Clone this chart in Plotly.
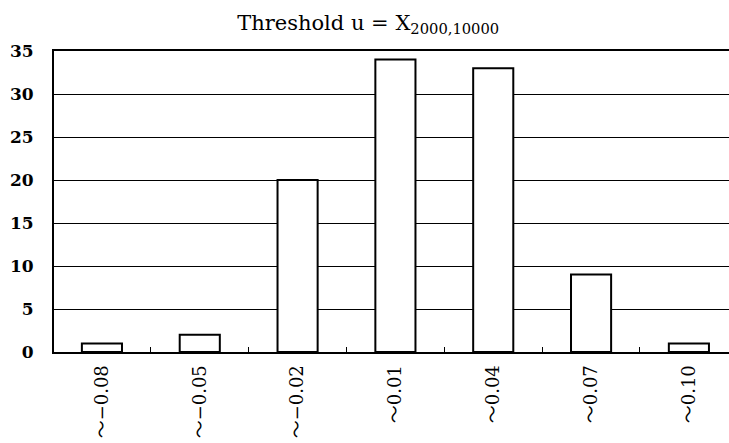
import plotly.graph_objects as go

categories = ["～−0.08", "～−0.05", "～−0.02", "～0.01", "～0.04", "～0.07", "～0.10"]
counts = [1, 2, 20, 34, 33, 9, 1]
y_ticks = [0, 5, 10, 15, 20, 25, 30, 35]

FONT = "DejaVu Serif, Noto Sans CJK JP"

fig = go.Figure(go.Bar(
    x=list(range(len(categories))),
    y=counts,
    marker=dict(color="white", line=dict(color="black", width=2)),
    width=0.41,
))

fig.update_layout(
    width=729, height=443,
    margin=dict(l=54, r=0, t=51, b=91),
    paper_bgcolor="white", plot_bgcolor="white",
    showlegend=False,
    title=dict(
        text="Threshold u = X<sub>2000,10000</sub>",
        x=0.505, xanchor="center", y=0.95, yanchor="middle",
        font=dict(family=FONT, size=21, color="black"),
    ),
    xaxis=dict(
        tickmode="array",
        tickvals=list(range(len(categories))),
        ticktext=categories,
        tickangle=-90,
        range=[-0.49, 6.41],
        showgrid=False,
        showline=True, linecolor="black", linewidth=2, mirror=True,
        ticks="",
        ticklabelstandoff=4,
        tickfont=dict(family=FONT, size=18, color="black"),
        zeroline=False,
    ),
    yaxis=dict(
        range=[0, 35],
        tickmode="array",
        tickvals=y_ticks,
        showgrid=True, gridcolor="black", gridwidth=1,
        showline=True, linecolor="black", linewidth=2,
        ticks="",
        ticklabelstandoff=15,
        tickfont=dict(family=FONT, size=17, color="black", weight="bold"),
        zeroline=False,
    ),
)

fig.update_xaxes(minor=dict(tickvals=[i + 0.5 for i in range(len(categories) - 1)],
                            ticks="inside", ticklen=5, tickcolor="black", tickwidth=1))

fig.write_html("out.html")
